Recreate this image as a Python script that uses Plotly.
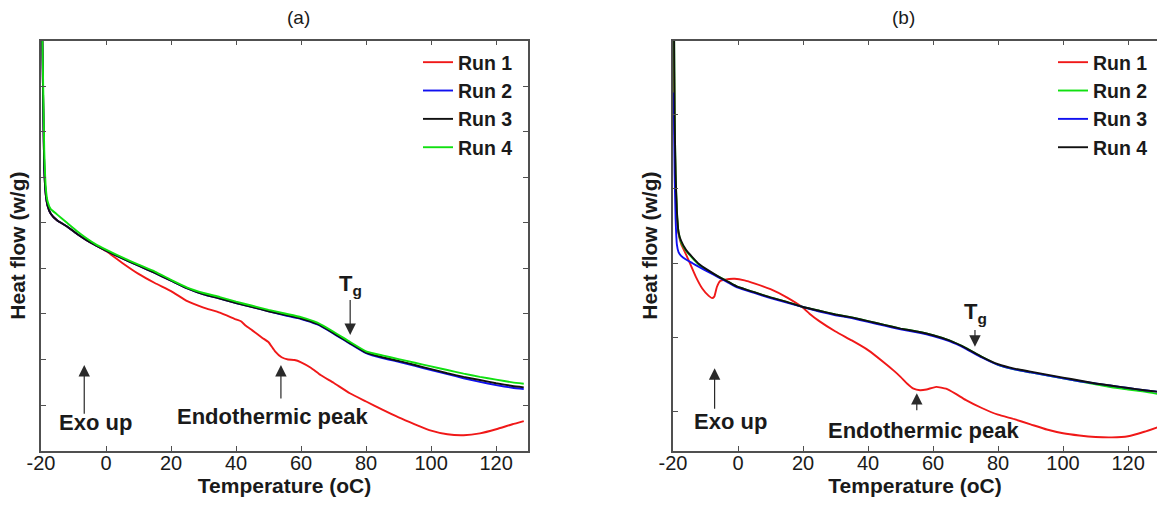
import plotly.graph_objects as go

# ---------------- data (panel a) ----------------
temp_a = [-19.7, -19.3, -19.0, -18.5, -18.0, -17.0, -15.0, -12.0, -9.0, -6.0, -3.0,
          0, 5, 10, 15, 20, 25, 30, 35, 40, 45, 50, 55, 60, 65, 70, 75, 80, 85, 90,
          95, 100, 105, 110, 115, 120, 125, 128.5]
a_run2 = [9.6, 7.5, 6.2, 5.6, 5.38, 5.2, 5.05, 4.92, 4.76, 4.62, 4.5,
          4.39, 4.22, 4.06, 3.9, 3.73, 3.56, 3.43, 3.34, 3.24, 3.15, 3.06, 2.97, 2.89,
          2.77, 2.57, 2.35, 2.14, 2.03, 1.95, 1.86, 1.77, 1.68, 1.59, 1.51, 1.44, 1.38, 1.35]
a_run3 = [9.6, 7.5, 6.2, 5.6, 5.38, 5.2, 5.05, 4.92, 4.76, 4.62, 4.5,
          4.39, 4.22, 4.06, 3.9, 3.73, 3.56, 3.43, 3.34, 3.24, 3.15, 3.06, 2.98, 2.90,
          2.78, 2.58, 2.36, 2.15, 2.05, 1.97, 1.88, 1.79, 1.70, 1.62, 1.55, 1.48, 1.42, 1.39]
a_run4 = [9.6, 7.9, 6.6, 5.75, 5.48, 5.3, 5.18, 5.0, 4.82, 4.66, 4.52,
          4.41, 4.24, 4.08, 3.93, 3.75, 3.58, 3.46, 3.37, 3.27, 3.18, 3.09, 3.01, 2.93,
          2.81, 2.61, 2.39, 2.18, 2.09, 2.01, 1.93, 1.85, 1.77, 1.69, 1.62, 1.56, 1.50, 1.47]
temp_a_run1 = [-19.7, -19.3, -19.0, -18.5, -18.0, -17.0, -15.0, -12.0, -9.0, -6.0, -3.0,
               0, 5, 10, 15, 20, 25, 30, 35, 40, 41.5, 43, 45, 48, 50, 52, 54, 56, 58,
               60, 63, 66, 70, 75, 80, 85, 90, 95, 100, 105, 110, 115, 120, 125, 128.5]
a_run1 = [9.6, 7.5, 6.2, 5.6, 5.38, 5.2, 5.05, 4.92, 4.76, 4.62, 4.5,
          4.38, 4.12, 3.88, 3.68, 3.50, 3.28, 3.14, 3.03, 2.88, 2.84, 2.74, 2.64, 2.48,
          2.38, 2.18, 2.05, 2.00, 1.99, 1.94, 1.82, 1.66, 1.49, 1.26, 1.08, 0.90, 0.73,
          0.58, 0.44, 0.36, 0.34, 0.38, 0.47, 0.58, 0.65]

# ---------------- data (panel b) ----------------
temp_b = [-19.8, -19.5, -19.2, -18.8, -18.3, -17.5, -16.0, -14.0, -12.0, -9.0, -6.0, -3.0,
          0, 5, 10, 15, 20, 25, 30, 35, 40, 45, 50, 55, 60, 65, 70, 75, 80, 85, 90,
          95, 100, 105, 110, 115, 120, 125, 129]
b_run2 = [6.0, 4.0, 3.2, 2.7, 2.42, 2.28, 2.17, 2.07, 1.98, 1.89, 1.82, 1.75,
          1.68, 1.61, 1.54, 1.48, 1.41, 1.36, 1.31, 1.27, 1.22, 1.17, 1.12, 1.08, 1.03,
          0.96, 0.86, 0.74, 0.63, 0.57, 0.53, 0.49, 0.45, 0.41, 0.37, 0.33, 0.30, 0.27, 0.24]
b_run3 = [4.3, 3.2, 2.6, 2.25, 2.15, 2.1, 2.05, 2.0, 1.95, 1.88, 1.81, 1.74,
          1.67, 1.60, 1.53, 1.47, 1.41, 1.35, 1.30, 1.26, 1.21, 1.16, 1.11, 1.07, 1.02,
          0.95, 0.85, 0.73, 0.63, 0.57, 0.53, 0.49, 0.45, 0.41, 0.38, 0.35, 0.32, 0.29, 0.27]
b_run4 = [6.0, 4.0, 3.2, 2.7, 2.42, 2.3, 2.18, 2.08, 1.99, 1.90, 1.82, 1.75,
          1.68, 1.61, 1.54, 1.48, 1.41, 1.36, 1.31, 1.27, 1.22, 1.17, 1.12, 1.08, 1.03,
          0.96, 0.86, 0.74, 0.64, 0.58, 0.54, 0.50, 0.46, 0.42, 0.38, 0.35, 0.32, 0.29, 0.27]
temp_b_run1 = [-19.8, -19.5, -19.2, -18.8, -18.3, -17.5, -16.0, -15.0, -13.0, -11.0, -9.0,
               -8.0, -7.3, -6.5, -5.5, -4.0, -1.0, 2, 5, 10, 15, 20, 22, 25, 30, 35, 40,
               45, 48, 50, 52, 54, 56, 58, 61, 64, 67, 70, 75, 80, 85, 90, 95, 100, 105,
               110, 115, 120, 125, 129]
b_run1 = [5.2, 3.8, 3.1, 2.65, 2.4, 2.26, 2.12, 2.02, 1.82, 1.66, 1.56,
          1.53, 1.55, 1.68, 1.76, 1.78, 1.79, 1.77, 1.73, 1.65, 1.54, 1.40, 1.32, 1.22,
          1.08, 0.96, 0.83, 0.66, 0.55, 0.47, 0.38, 0.31, 0.29, 0.30, 0.335, 0.31, 0.24,
          0.16, 0.05, -0.04, -0.10, -0.17, -0.24, -0.29, -0.32, -0.34, -0.345, -0.33,
          -0.27, -0.21]

x_ticks = [-20, 0, 20, 40, 60, 80, 100, 120]
x_tick_text = ["-20", "0", "20", "40", "60", "80", "100", "120"]
run_names = ["Run 1", "Run 2", "Run 3", "Run 4"]

RED, BLUE, BLACK, GREEN = "#f01818", "#1010f0", "#101010", "#10e010"
FONT = "Liberation Sans, Arial, sans-serif"

fig = go.Figure()

# panel a traces
for name, xs, ys, col in [(run_names[0], temp_a_run1, a_run1, RED),
                          (run_names[1], temp_a, a_run2, BLUE),
                          (run_names[2], temp_a, a_run3, BLACK),
                          (run_names[3], temp_a, a_run4, GREEN)]:
    fig.add_trace(go.Scatter(x=xs, y=ys, mode="lines", name=name,
                             line=dict(color=col, width=1.9, shape="spline", smoothing=0.4),
                             xaxis="x", yaxis="y", legend="legend"))

# panel b traces
for name, xs, ys, col in [(run_names[0], temp_b_run1, b_run1, RED),
                          (run_names[1], temp_b, b_run2, GREEN),
                          (run_names[2], temp_b, b_run3, BLUE),
                          (run_names[3], temp_b, b_run4, BLACK)]:
    fig.add_trace(go.Scatter(x=xs, y=ys, mode="lines", name=name,
                             line=dict(color=col, width=1.9, shape="spline", smoothing=0.4),
                             xaxis="x2", yaxis="y2", legend="legend2"))

W, H = 1157, 506
ax_common = dict(showline=True, linecolor="#505050", linewidth=1.5, ticks="inside",
                 ticklen=5, tickcolor="#505050", tickwidth=1.2, showgrid=False,
                 zeroline=False, automargin=False)
xfont = dict(family=FONT, size=20, color="#1a1a1a")
title_font = dict(family=FONT, size=21, color="#1a1a1a", weight="bold")

y_dom = [1 - 450.7 / H, 1 - 40.5 / H]

fig.update_layout(
    width=W, height=H,
    margin=dict(l=0, r=0, t=0, b=0, autoexpand=False),
    paper_bgcolor="white", plot_bgcolor="white",
    font=dict(family=FONT, color="#1a1a1a"),
    xaxis=dict(domain=[41 / W, 528 / W], range=[-20, 129.8], tickvals=x_ticks,
               ticktext=x_tick_text, mirror="ticks", tickfont=xfont,
               ticklabelstandoff=-6,
               title=dict(text="Temperature (oC)", font=title_font, standoff=2),
               **ax_common),
    yaxis=dict(domain=y_dom, range=[0, 9], tick0=0, dtick=1, showticklabels=False,
               mirror="ticks",
               title=dict(text="Heat flow (w/g)", font=title_font, standoff=8),
               **ax_common),
    xaxis2=dict(domain=[673 / W, 1.0], range=[-20, 128.9], tickvals=x_ticks,
                ticktext=x_tick_text, mirror="ticks", tickfont=xfont, anchor="y2",
                ticklabelstandoff=-6,
                title=dict(text="Temperature (oC)", font=title_font, standoff=2),
                **ax_common),
    yaxis2=dict(domain=y_dom, range=[-0.525, 5.0], tick0=0, dtick=1,
                showticklabels=False, mirror=False, anchor="x2",
                title=dict(text="Heat flow (w/g)", font=title_font, standoff=8),
                **ax_common),
    legend=dict(x=418 / W, xanchor="left", y=1 - 43 / H, yanchor="top",
                bgcolor="rgba(0,0,0,0)", borderwidth=0,
                font=dict(family=FONT, size=19.5, color="#1a1a1a", weight="bold"),
                tracegroupgap=0),
    legend2=dict(x=1053 / W, xanchor="left", y=1 - 43 / H, yanchor="top",
                 bgcolor="rgba(0,0,0,0)", borderwidth=0,
                 font=dict(family=FONT, size=19.5, color="#1a1a1a", weight="bold"),
                 tracegroupgap=0),
)

ann_font = dict(family=FONT, size=22, color="#1a1a1a", weight="bold")
# subplot titles
fig.add_annotation(text="(a)", x=(41 + 528) / 2 / W, y=1 - 17 / H, xref="paper", yref="paper",
                   yanchor="middle", showarrow=False,
                   font=dict(family=FONT, size=19, color="#1a1a1a"))
fig.add_annotation(text="(b)", x=(673 + 1160) / 2 / W, y=1 - 17 / H, xref="paper", yref="paper",
                   yanchor="middle", showarrow=False,
                   font=dict(family=FONT, size=19, color="#1a1a1a"))

def arrow(xr, yr, x, y_tail, y_head):
    fig.add_annotation(x=x, y=y_head, ax=x, ay=y_tail, xref=xr, yref=yr,
                       axref=xr, ayref=yr, text="", showarrow=True,
                       arrowhead=2, arrowsize=1.9, arrowwidth=1.2, arrowcolor="#2a2a2a")

def label(xr, yr, x, y, txt):
    fig.add_annotation(x=x, y=y, xref=xr, yref=yr, text=txt, showarrow=False,
                       font=ann_font)

# panel a annotations
arrow("x", "y", -6.7, 0.78, 1.88)
label("x", "y", -3.1, 0.61, "Exo up")
arrow("x", "y", 53.8, 1.11, 1.88)
label("x", "y", 51.1, 0.76, "Endothermic peak")
arrow("x", "y", 75.1, 3.34, 2.54)
label("x", "y", 75.1, 3.63, "T<sub>g</sub>")

# panel b annotations
arrow("x2", "y2", -7.2, 0.02, 0.585)
label("x2", "y2", -2.2, -0.135, "Exo up")
arrow("x2", "y2", 55.0, 0.0, 0.25)
label("x2", "y2", 57.1, -0.25, "Endothermic peak")
arrow("x2", "y2", 72.9, 1.12, 0.876)
label("x2", "y2", 73.2, 1.33, "T<sub>g</sub>")

fig.write_html("out.html", config={"displayModeBar": False},
               post_script="document.body.style.margin='0';")
